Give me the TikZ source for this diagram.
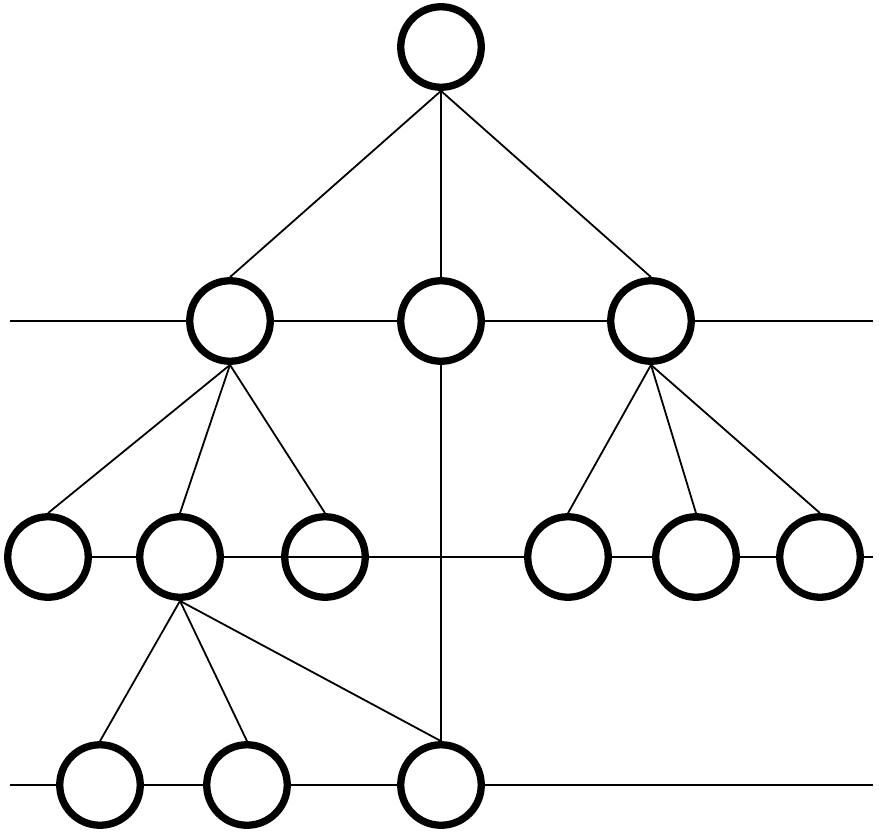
\documentclass[tikz,border=0pt]{standalone}
\begin{document}
\begin{tikzpicture}[x=1pt,y=-1pt,
  vtx/.style={circle, draw=black, line width=7.3pt, minimum size=80.5pt, inner sep=0pt},
  wire/.style={draw=black, line width=1.8pt}]
\useasboundingbox (0,0) rectangle (879,833);
% nodes
\node[vtx] (r) at (441,47) {};
\node[vtx] (a) at (230,321) {};
\node[vtx] (b) at (441,321) {};
\node[vtx] (c) at (651,321) {};
\node[vtx] (d1) at (48,557) {};
\node[vtx] (d2) at (180,557) {};
\node[vtx] (d3) at (325,557) {};
\node[vtx] (d4) at (568,557) {};
\node[vtx] (d5) at (696,557) {};
\node[vtx] (d6) at (820,557) {};
\node[vtx] (e1) at (100,785) {};
\node[vtx] (e2) at (247,785) {};
\node[vtx] (e3) at (441,785) {};
\coordinate (hl2) at (10,321);
\coordinate (hr2) at (873,321);
\coordinate (hr3) at (873,557);
\coordinate (hl4) at (10,785);
\coordinate (hr4) at (873,785);
% tree edges
\draw[wire] (r.south) -- (a.north);
\draw[wire] (r.south) -- (b.north);
\draw[wire] (r.south) -- (c.north);
\draw[wire] (a.south) -- (d1.north);
\draw[wire] (a.south) -- (d2.north);
\draw[wire] (a.south) -- (d3.north);
\draw[wire] (b.south) -- (e3.north);
\draw[wire] (c.south) -- (d4.north);
\draw[wire] (c.south) -- (d5.north);
\draw[wire] (c.south) -- (d6.north);
\draw[wire] (d2.south) -- (e1.north);
\draw[wire] (d2.south) -- (e2.north);
\draw[wire] (d2.south) -- (e3.north);
% horizontal lines
\draw[wire] (hl2) -- (a.west);
\draw[wire] (a.east) -- (b.west);
\draw[wire] (b.east) -- (c.west);
\draw[wire] (c.east) -- (hr2);
\draw[wire] (d1.east) -- (d2.west);
\draw[wire] (d2.east) -- (d4.west);
\draw[wire] (d4.east) -- (d5.west);
\draw[wire] (d5.east) -- (d6.west);
\draw[wire] (d6.east) -- (hr3);
\draw[wire] (hl4) -- (e1.west);
\draw[wire] (e1.east) -- (e2.west);
\draw[wire] (e2.east) -- (e3.west);
\draw[wire] (e3.east) -- (hr4);
\end{tikzpicture}
\end{document}
